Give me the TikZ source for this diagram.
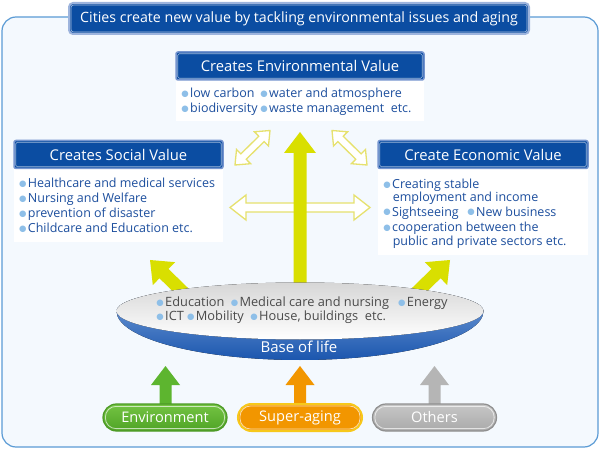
\documentclass[tikz,border=0pt]{standalone}
\usepackage{fontspec}
\setmainfont{Open Sans}
\newfontfamily\dejavu{DejaVu Sans}
\usetikzlibrary{calc}
\definecolor{frameC}{HTML}{5B9BD5}
\definecolor{frameF}{HTML}{F4F9FE}
\definecolor{hdB}{HTML}{0B4DA2}
\definecolor{hdBorder}{HTML}{7595CF}
\definecolor{titleBorder}{HTML}{9DB4DD}
\definecolor{itemC}{HTML}{1D4F9E}
\definecolor{bulC}{HTML}{8EBFE8}
\definecolor{yelA}{HTML}{D9DF00}
\definecolor{yelO}{HTML}{E6E16E}
\definecolor{bowlText}{HTML}{4A4A4A}
\definecolor{bowlLight}{HTML}{7FA7DE}
\definecolor{bowlDark}{HTML}{1B56AE}
\definecolor{grnA}{HTML}{5DB52F}
\definecolor{grnTop}{HTML}{74C443}
\definecolor{grnBot}{HTML}{4FA325}
\definecolor{grnLine}{HTML}{4D9A26}
\definecolor{orgA}{HTML}{F29600}
\definecolor{orgLine}{HTML}{F7C81B}
\definecolor{gryA}{HTML}{B5B5B5}
\definecolor{gryTop}{HTML}{C6C6C6}
\definecolor{gryBot}{HTML}{AAAAAA}
\definecolor{gryLine}{HTML}{8F8F8F}
\newcommand{\bul}{\makebox[5.2pt][c]{\raisebox{1.2pt}{\textcolor{bulC}{\dejavu\fontsize{8.5}{8.5}\selectfont ●}}}\hspace{2.4pt}}
\newcommand{\blockarrow}[6]{%
  \coordinate (bH) at ($(#3)!#6!(#2)$);
  \path[#1] ($(#2)!#4!90:(#3)$) -- ($(bH)!#4!90:(#3)$) -- ($(bH)!#5!90:(#3)$) -- (#3)
    -- ($(bH)!#5!-90:(#3)$) -- ($(bH)!#4!-90:(#3)$) -- ($(#2)!#4!-90:(#3)$) -- cycle;}
\newcommand{\dblarrow}[6]{%
  \coordinate (dHA) at ($(#2)!#6!(#3)$);
  \coordinate (dHB) at ($(#3)!#6!(#2)$);
  \path[#1] (#2) -- ($(dHA)!#5!90:(#3)$) -- ($(dHA)!#4!90:(#3)$) -- ($(dHB)!#4!-90:(#2)$)
    -- ($(dHB)!#5!-90:(#2)$) -- (#3) -- ($(dHB)!#5!90:(#2)$) -- ($(dHB)!#4!90:(#2)$)
    -- ($(dHA)!#4!-90:(#3)$) -- ($(dHA)!#5!-90:(#3)$) -- cycle;}
\tikzset{
  hbox/.style={draw=hdBorder, line width=1.5pt, fill=hdB, rounded corners=2pt,
    minimum height=28pt, text=white, font=\fontsize{14.8}{16}\selectfont, inner sep=0pt},
  wbox/.style={fill=white, inner sep=0pt},
  item/.style={anchor=base west, inner sep=0pt, text=itemC, font=\fontsize{12.5}{14}\selectfont},
  bitem/.style={anchor=base west, inner sep=0pt, text=bowlText, font=\fontsize{12.8}{14}\selectfont},
  yarrow/.style={fill=yelA},
  oarrow/.style={draw=yelO, line width=1.3pt, fill=white, line join=miter},
  pill/.style={rounded corners=13.5pt, minimum width=124pt, minimum height=27pt,
    text=white, font=\fontsize{14.6}{16}\selectfont, inner sep=0pt},
  innerline/.style={draw=white, draw opacity=0.65, line width=0.8pt}
}
\begin{document}
\begin{tikzpicture}[x=1pt,y=1pt]
\useasboundingbox (0,0) rectangle (600,-449);
% frame
\draw[frameC, line width=1.2pt, fill=frameF, rounded corners=14pt] (2,-17) rectangle (598,-447);
% title
\node[draw=titleBorder, line width=2pt, fill=hdB, rounded corners=4pt, minimum width=460pt,
  minimum height=31pt, text=white, font=\fontsize{14.2}{16}\selectfont, inner sep=0pt] (title) at (299,-18.5)
  {Cities create new value by tackling environmental issues and aging};
\draw[white!65!hdB, line width=0.6pt, rounded corners=2.5pt] ([shift={(3pt,-3pt)}]title.north west) rectangle ([shift={(-3pt,3pt)}]title.south east);

% environmental value
\node[wbox, minimum width=248pt, minimum height=41pt, anchor=north] (envw) at (300,-80) {};
\node[hbox, minimum width=248pt] (envh) at (300,-66) {Creates Environmental Value};
\draw[white!60!hdB, line width=0.6pt, rounded corners=1.5pt] ([shift={(2.5pt,-2.5pt)}]envh.north west) rectangle ([shift={(-2.5pt,2.5pt)}]envh.south east);
\node[item] (e1) at (182.4,-98) {\bul low carbon};
\node[item] (e2) at (261.4,-98) {\bul water and atmosphere};
\node[item] (e3) at (182.4,-112.5) {\bul biodiversity};
\node[item] (e4) at (261.4,-112.5) {\bul waste management\ \ etc.};

% social value
\node[wbox, minimum width=209pt, minimum height=74pt, anchor=north] (socw) at (118.5,-168) {};
\node[hbox, minimum width=209pt] (soch) at (118.5,-154.5) {Creates Social Value};
\draw[white!60!hdB, line width=0.6pt, rounded corners=1.5pt] ([shift={(2.5pt,-2.5pt)}]soch.north west) rectangle ([shift={(-2.5pt,2.5pt)}]soch.south east);
\node[item] (s1) at (20.1,-187.5) {\bul Healthcare and medical services};
\node[item] (s2) at (20.1,-202.7) {\bul Nursing and Welfare};
\node[item] (s3) at (20.1,-217.6) {\bul prevention of disaster};
\node[item] (s4) at (20.1,-233) {\bul Childcare and Education etc.};

% economic value
\node[wbox, minimum width=210pt, minimum height=87pt, anchor=north] (ecow) at (483,-168) {};
\node[hbox, minimum width=210pt] (ecoh) at (483,-154.5) {Create Economic Value};
\draw[white!60!hdB, line width=0.6pt, rounded corners=1.5pt] ([shift={(2.5pt,-2.5pt)}]ecoh.north west) rectangle ([shift={(-2.5pt,2.5pt)}]ecoh.south east);
\node[item] (c1) at (384.4,-188.7) {\bul Creating stable};
\node[item] (c2) at (392.6,-201.2) {employment and income};
\node[item] (c3) at (384.4,-216.2) {\bul Sightseeing};
\node[item] (c4) at (468.4,-216.2) {\bul New business};
\node[item] (c5) at (384.4,-231.7) {\bul cooperation between the};
\node[item] (c6) at (392.6,-245.5) {public and private sectors etc.};

% outlined double arrows
\coordinate (dl1) at (235,-165); \coordinate (dl2) at (270,-130.5);
\coordinate (dr1) at (332,-130.5); \coordinate (dr2) at (367,-165);
\coordinate (dh1) at (230,-207.5); \coordinate (dh2) at (370,-207.5);
\dblarrow{oarrow}{dl1}{dl2}{3.8pt}{10pt}{12pt}
\dblarrow{oarrow}{dr1}{dr2}{3.8pt}{10pt}{12pt}
\dblarrow{oarrow}{dh1}{dh2}{4.5pt}{12.5pt}{16pt}

% yellow arrows
\coordinate (vT) at (300,-300); \coordinate (vP) at (300,-132);
\blockarrow{yarrow}{vT}{vP}{6.5pt}{16pt}{21pt}
\coordinate (lT) at (190,-299); \coordinate (lP) at (150,-260);
\blockarrow{yarrow}{lT}{lP}{6.5pt}{16pt}{19.5pt}
\coordinate (rT) at (410,-299); \coordinate (rP) at (450,-260);
\blockarrow{yarrow}{rT}{rP}{6.5pt}{16pt}{19.5pt}

% bowl
\fill[top color=bowlLight, bottom color=bowlDark] (116.5,-311) arc[start angle=180, end angle=0, x radius=183.5, y radius=28]
  arc[start angle=0, end angle=-180, x radius=183.5, y radius=49] -- cycle;
\fill[top color=black!16, middle color=white, bottom color=white] (300,-311) ellipse [x radius=183.5, y radius=28.5];
\node[bitem] (b1) at (157.4,-306.7) {\bul Education};
\node[bitem] (b2) at (231.7,-306.7) {\bul Medical care and nursing};
\node[bitem] (b3) at (399.1,-306.7) {\bul Energy};
\node[bitem] (b4) at (157.4,-320.7) {\bul ICT};
\node[bitem] (b5) at (188.1,-320.7) {\bul Mobility};
\node[bitem] (b6) at (251.4,-320.7) {\bul House, buildings\ \ etc.};
\node[anchor=base, inner sep=0pt, text=white, font=\fontsize{15}{16}\selectfont] (base) at (299,-352.3) {Base of life};

% bottom arrows
\coordinate (gT) at (165.5,-410); \coordinate (gP) at (165.5,-366);
\blockarrow{fill=grnA}{gT}{gP}{6pt}{14.5pt}{19pt}
\coordinate (oT) at (300,-410); \coordinate (oP) at (300,-366);
\blockarrow{fill=orgA}{oT}{oP}{6pt}{14.5pt}{19pt}
\coordinate (kT) at (434.5,-410); \coordinate (kP) at (434.5,-366);
\blockarrow{fill=gryA}{kT}{kP}{6pt}{14.5pt}{19pt}

% pills
\node[pill, top color=grnTop, bottom color=grnBot, draw=grnLine, line width=1.2pt] (env) at (165,-417.5) {};
\node[pill, fill=orgA, draw=orgLine, line width=2pt] (sup) at (300,-417.5) {};
\node[pill, top color=gryTop, bottom color=gryBot, draw=gryLine, line width=1.2pt] (oth) at (434.5,-417.5) {};
\foreach \p in {env,sup,oth}{
  \draw[innerline, rounded corners=10.5pt] ([shift={(3pt,-3pt)}]\p.north west) rectangle ([shift={(-3pt,3pt)}]\p.south east);}
\node[text=white, font=\fontsize{14.6}{16}\selectfont, inner sep=0pt] (envt) at (env) {Environment};
\node[text=white, font=\fontsize{14.6}{16}\selectfont, inner sep=0pt] (supt) at (sup) {Super-aging};
\node[text=white, font=\fontsize{14.6}{16}\selectfont, inner sep=0pt] (otht) at (oth) {Others};
\end{tikzpicture}
\end{document}
